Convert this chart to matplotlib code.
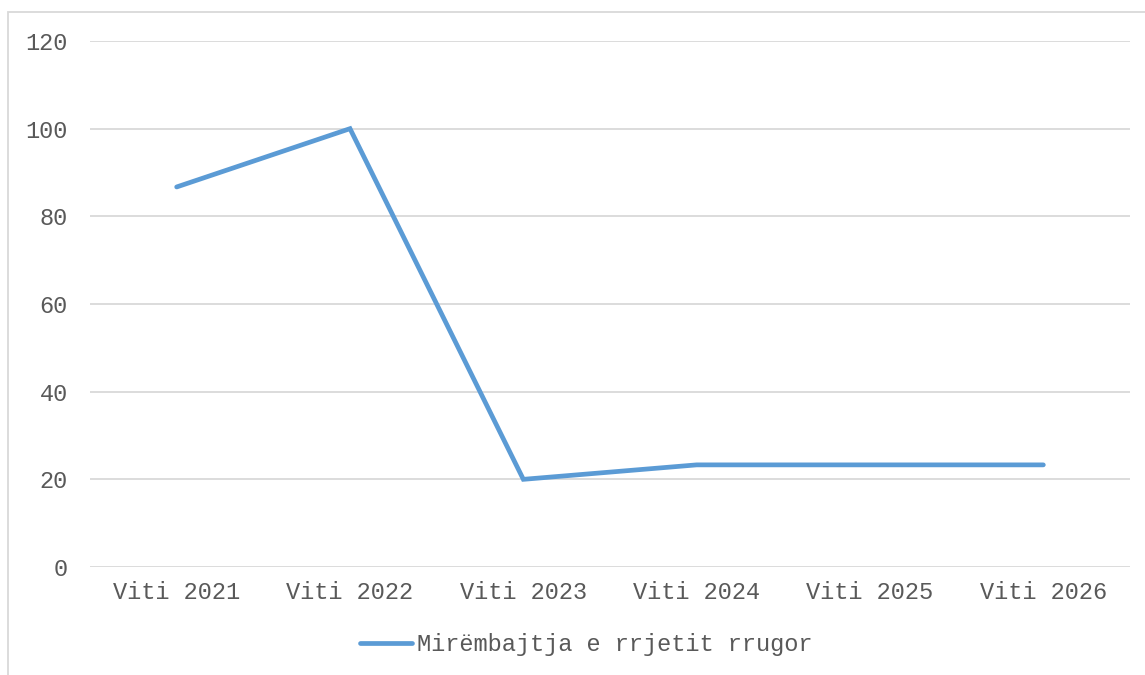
import matplotlib
matplotlib.use("Agg")
import matplotlib.pyplot as plt
from matplotlib.patches import Rectangle
from matplotlib.lines import Line2D

categories = ["Viti 2021", "Viti 2022", "Viti 2023", "Viti 2024", "Viti 2025", "Viti 2026"]
values = [86.7, 100, 20, 23.3, 23.3, 23.3]
series_name = "Mirëmbajtja e rrjetit rrugor"
yticks = [0, 20, 40, 60, 80, 100, 120]

W, H = 1145, 675
fig = plt.figure(figsize=(W / 100, H / 100), dpi=100)
plt.rcParams["font.family"] = ["Liberation Mono", "DejaVu Sans Mono"]

# outer chart border (runs off the right and bottom edges)
fig.patches.append(Rectangle((8 / W, -0.2), 1.2, 1.2 - 12 / H, transform=fig.transFigure,
                             fill=False, edgecolor="#d9d9d9", linewidth=1.3))

ax = fig.add_axes([90 / W, 1 - 567 / H, (1130 - 90) / W, (567 - 41) / H])
x = list(range(len(categories)))
ax.plot(x, values, color="#5b9bd5", linewidth=3.4, solid_capstyle="round",
        solid_joinstyle="miter", zorder=3)

ax.set_xlim(-0.5, len(categories) - 0.5)
ax.set_ylim(0, 120)
ax.set_yticks(yticks)
ax.set_xticks(x)
ax.set_xticklabels(categories)
ax.grid(axis="y", color="#d9d9d9", linewidth=1.3)
ax.set_axisbelow(True)
for s in ax.spines.values():
    s.set_visible(False)
ax.tick_params(length=0, labelsize=17, labelcolor="#595959")
ax.tick_params(axis="y", pad=16)
ax.tick_params(axis="x", pad=10)

handle = Line2D([], [], color="#5b9bd5", linewidth=3.4, solid_capstyle="round")
fig.legend([handle], [series_name], loc="center", bbox_to_anchor=(586 / W, 1 - 645 / H),
           frameon=False, fontsize=17, labelcolor="#595959", handlelength=2.2,
           handletextpad=0.2)

fig.savefig("out.png", dpi=100)
